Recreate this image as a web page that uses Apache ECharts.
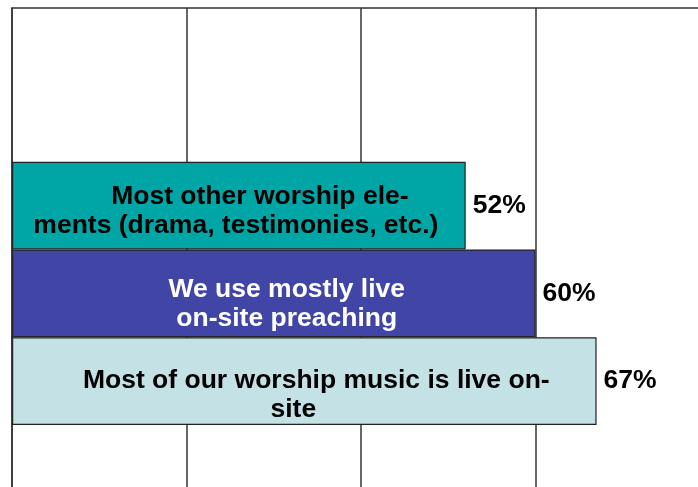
<!DOCTYPE html>
<html>
<head>
<meta charset="utf-8">
<script src="https://cdn.jsdelivr.net/npm/echarts@6/dist/echarts.min.js"></script>
<style>
	html, body { margin: 0; padding: 0; background: #fff; }
	#chart { width: 698px; height: 487px; }
</style>
</head>
<body>
<div id="chart"></div>
<script>
// data
const categories = [
	'Most other worship elements (drama, testimonies, etc.)',
	'We use mostly live on-site preaching',
	'Most of our worship music is live on-site'
]
// label text as broken in the original
const labelLines = [
	['Most other worship ele-', 'ments (drama, testimonies, etc.)'],
	['We use mostly live', 'on-site preaching'],
	['Most of our worship music is live on-', 'site']
]
const values = [52, 60, 67]
const axisMin = 0
const axisMax = 80
const axisStep = 20

// styles
const barColors = ['#00a5a5', '#4146a6', '#c4e2e6']
const textColors = ['#000000', '#ffffff', '#000000']
const lineShift = [[21, -3], [13, 13], [12, -11]]
const labelDy = [6, 11, 14]
const font = "'Liberation Sans', Arial, sans-serif"
const fontSize = 26.5

const pad = d => (d >= 0 ? [0, 0, 0, 2 * d] : [0, -2 * d, 0, 0])

const chart = echarts.init(document.getElementById('chart'))

const option = {
	animation: false,
	grid: [
		// frame with the vertical grid lines (80% sits just past the right edge)
		{ left: 12, width: 698, top: 8, height: 500, outerBoundsMode: 'none' },
		// bars
		{ left: 12, width: 698, top: 161.7, height: 263.3, outerBoundsMode: 'none' }
	],
	xAxis: [
		{
			gridIndex: 0,
			type: 'value',
			position: 'top',
			min: axisMin,
			max: axisMax,
			interval: axisStep,
			axisLine: { show: true, lineStyle: { color: '#333', width: 1.5 } },
			axisTick: { show: false },
			axisLabel: { show: false },
			splitLine: { show: true, lineStyle: { color: '#333', width: 1.5 } }
		},
		{
			gridIndex: 1,
			type: 'value',
			min: axisMin,
			max: axisMax,
			show: false
		}
	],
	yAxis: [
		{
			gridIndex: 0,
			type: 'category',
			data: [''],
			axisLine: { show: true, lineStyle: { color: '#333', width: 1.5 } },
			axisTick: { show: false },
			axisLabel: { show: false }
		},
		{
			gridIndex: 1,
			type: 'category',
			inverse: true,
			data: categories,
			show: false
		}
	],
	series: [
		{
			type: 'bar',
			xAxisIndex: 1,
			yAxisIndex: 1,
			barWidth: '100%',
			barGap: '-100%',
			data: values.map((v, i) => ({
				value: v,
				itemStyle: { color: barColors[i], borderColor: '#222', borderWidth: 1.2 },
				label: {
					show: true,
					position: 'inside',
					offset: [0, labelDy[i]],
					formatter: () => labelLines[i].map((t, j) => `{l${j}|${t}}`).join('\n'),
					rich: {
						l0: { fontFamily: font, fontSize: fontSize, fontWeight: 'bold', color: textColors[i], lineHeight: 29, padding: pad(lineShift[i][0]) },
						l1: { fontFamily: font, fontSize: fontSize, fontWeight: 'bold', color: textColors[i], lineHeight: 29, padding: pad(lineShift[i][1]) }
					}
				}
			}))
		},
		{
			// value labels beside the bars
			type: 'bar',
			xAxisIndex: 1,
			yAxisIndex: 1,
			barWidth: '100%',
			barGap: '-100%',
			silent: true,
			itemStyle: { color: 'rgba(0,0,0,0)' },
			label: {
				show: true,
				position: 'right',
				distance: 7,
				formatter: p => p.value + '%',
				fontFamily: font,
				fontSize: fontSize,
				fontWeight: 'bold',
				color: '#000'
			},
			data: values
		}
	]
}

chart.setOption(option)
</script>
</body>
</html>
